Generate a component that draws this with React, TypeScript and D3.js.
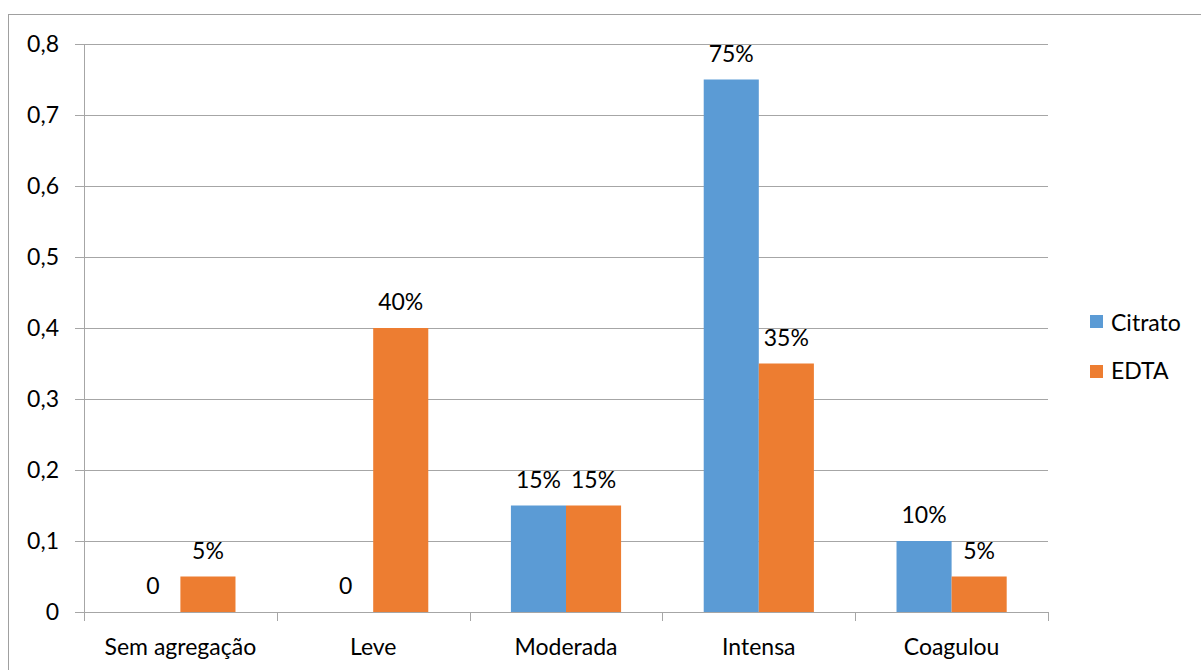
import React from "react";
import * as d3 from "d3";

const categories = ["Sem agregação", "Leve", "Moderada", "Intensa", "Coagulou"];
const seriesNames = ["Citrato", "EDTA"];
const citrato = [0, 0, 0.15, 0.75, 0.1];
const edta = [0.05, 0.4, 0.15, 0.35, 0.05];
const citratoLabels = ["0", "0", "15%", "75%", "10%"];
const edtaLabels = ["5%", "40%", "15%", "35%", "5%"];
const yTicks = [0, 0.1, 0.2, 0.3, 0.4, 0.5, 0.6, 0.7, 0.8];
const colors = ["#5B9BD5", "#ED7D31"];

const W = 1201, H = 670;
const left = 84, right = 1048, top = 44, bottom = 612;
const FONT = "Lato, 'Open Sans', sans-serif";
const FS = 23;

export default function App() {
  const x0 = d3.scaleBand().domain(categories).range([left, right]).paddingInner(0).paddingOuter(0);
  const x1 = d3.scaleBand().domain(seriesNames).range([0, x0.bandwidth()]).paddingInner(0).paddingOuter(0.75);
  const y = d3.scaleLinear().domain([0, 0.8]).range([bottom, top]);
  const fmt = (v: number) => d3.format(".1f")(v).replace(".", ",");
  const series = [citrato, edta];
  const labels = [citratoLabels, edtaLabels];
  const grid = "#A6A6A6";
  return (
    <svg width={W} height={H} style={{ position: "absolute", left: 0, top: 0 }} fontFamily={FONT}>
      <rect x={0} y={0} width={W} height={H} fill="#fff" />
      <rect x={8.5} y={14.5} width={W} height={H} fill="none" stroke="#A0A0A0" strokeWidth={1} />
      {yTicks.map((t) => (
        <g key={t}>
          <line x1={75} x2={right} y1={Math.round(y(t)) + 0.5} y2={Math.round(y(t)) + 0.5} stroke={grid} strokeWidth={1} />
          <text x={59} y={y(t) + 8} textAnchor="end" fontSize={FS} fill="#000">
            {t === 0 ? "0" : fmt(t)}
          </text>
        </g>
      ))}
      <line x1={left + 0.5} x2={left + 0.5} y1={top} y2={bottom} stroke={grid} />
      {categories.map((c, i) => (
        <line key={"t" + i} x1={Math.round(x0(c)!) + 0.5} x2={Math.round(x0(c)!) + 0.5} y1={bottom} y2={bottom + 9} stroke={grid} />
      ))}
      <line x1={right + 0.5} x2={right + 0.5} y1={bottom} y2={bottom + 9} stroke={grid} />
      {categories.map((c, i) => (
        <text key={"c" + i} x={x0(c)! + x0.bandwidth() / 2} y={655} textAnchor="middle" fontSize={FS} fill="#000">
          {c}
        </text>
      ))}
      {seriesNames.map((s, si) =>
        categories.map((c, i) => {
          const v = series[si][i];
          const bx = x0(c)! + x1(s)!;
          return (
            <g key={s + c}>
              {v > 0 && (
                <rect x={bx} y={y(v)} width={x1.bandwidth()} height={bottom - y(v)} fill={colors[si]} />
              )}
              <text x={bx + x1.bandwidth() / 2} y={y(v) - 18} textAnchor="middle" fontSize={FS} fill="#000">
                {labels[si][i]}
              </text>
            </g>
          );
        })
      )}
      {seriesNames.map((s, si) => (
        <g key={"l" + s}>
          <rect x={1090} y={315 + si * 50} width={13} height={13} fill={colors[si]} />
          <text x={1111} y={331 + si * 48} fontSize={FS} fill="#000">{s}</text>
        </g>
      ))}
    </svg>
  );
}
